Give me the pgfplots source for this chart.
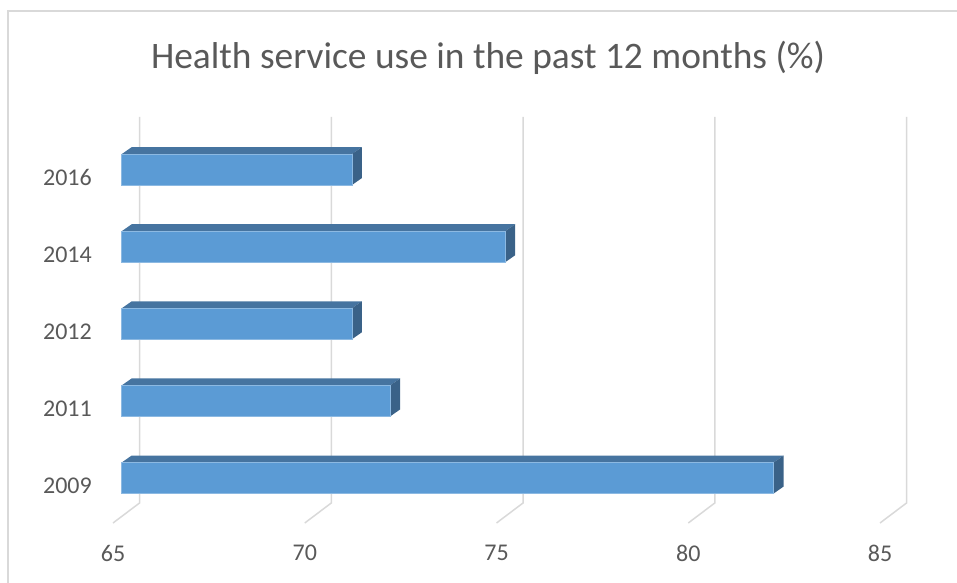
\documentclass[border=0pt]{standalone}
\usepackage{pgfplots}
\pgfplotsset{compat=1.18}
\usepackage{pgfplotstable}
\usepackage{fontspec}
\setmainfont{Carlito}
\definecolor{txt}{HTML}{595959}
\definecolor{gridc}{HTML}{D9D9D9}
\definecolor{front}{HTML}{5B9BD5}
\definecolor{topf}{HTML}{4674A0}
\definecolor{sidef}{HTML}{3A6288}

\pgfplotstableread{
y v
0 82
1 72
2 71
3 75
4 71
}\data

\begin{document}
\begin{tikzpicture}[x=1pt,y=1pt]
\path[use as bounding box] (0,0) rectangle (957,582);
\draw[gridc, line width=1.5pt] (8,-60) -- (8,571) -- (1000,571);
\node[txt, font=\fontsize{37.4}{43}\selectfont] at (488,524) {Health service use in the past 12 months (\%)};
\begin{axis}[
  at={(113pt,59pt)}, anchor=south west,
  scale only axis, width=767pt, height=386pt,
  xmin=0, xmax=20, ymin=-0.48, ymax=4.527,
  clip=false,
  axis line style={draw=none},
  major tick length=0pt,
  xtick={0,5,10,15,20}, xticklabels={65,70,75,80,85},
  ytick={0,1,2,3,4}, yticklabels={2009,2011,2012,2014,2016},
  tick label style={font=\fontsize{24}{29}\selectfont, text=txt, inner sep=0pt},
  xticklabel style={anchor=north, yshift=-22pt},
  yticklabel style={anchor=east, xshift=-21pt},
  /pgf/number format/assume math mode=true,
]
\pgfplotsinvokeforeach{0,5,10,15,20}{
  \draw[gridc, line width=1.5pt] (axis cs:#1,-0.48) -- ++(26.5pt,20pt) -- ++(0pt,386pt);
}
\pgfplotsinvokeforeach{0,...,4}{
  \pgfplotstablegetelem{#1}{v}\of\data
  \pgfmathsetmacro\xe{\pgfplotsretval-65}
  \edef\doit{\noexpand\fill[topf] ([xshift=8.7pt,yshift=23.5pt]axis cs:0,#1) -- ([xshift=8.7pt,yshift=23.5pt]axis cs:\xe,#1) -- ([xshift=18.7pt,yshift=30.5pt]axis cs:\xe,#1) -- ([xshift=18.7pt,yshift=30.5pt]axis cs:0,#1) -- cycle;
  \noexpand\fill[sidef] ([xshift=8.7pt,yshift=23.5pt]axis cs:\xe,#1) -- ([xshift=18.7pt,yshift=30.5pt]axis cs:\xe,#1) -- ([xshift=18.7pt,yshift=-0.5pt]axis cs:\xe,#1) -- ([xshift=8.7pt,yshift=-7.5pt]axis cs:\xe,#1) -- cycle;}
  \doit
}
\addplot[xbar, bar width=31pt, bar shift=8pt, xshift=8.7pt, fill=front, draw=front!70!white, line width=0.6pt] table[x expr=\thisrow{v}-65, y=y] {\data};
\end{axis}
\end{tikzpicture}
\end{document}
